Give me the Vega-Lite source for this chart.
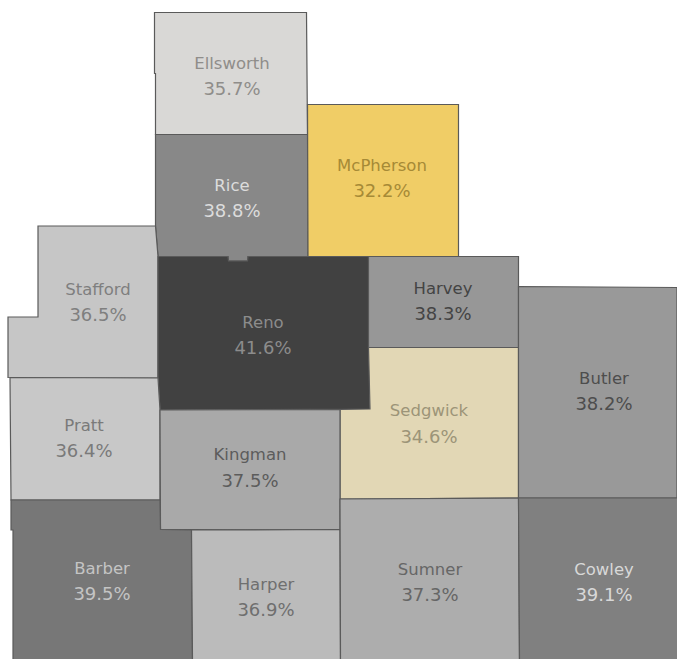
{"$schema":"https://vega.github.io/schema/vega-lite/v6.json","width":677,"height":659,"autosize":{"type":"none"},"padding":0,"background":"#ffffff","view":{"stroke":null},"config":{"view":{"stroke":null}},"projection":{"type":"identity","scale":1,"translate":[0,0]},"data":{"values":[
{"type":"Feature","properties":{"county":"Ellsworth","rate":0.357,"lx":232,"ny":64,"vy":88},"geometry":{"type":"Polygon","coordinates":[[[154.5,12.5],[306.5,12.5],[307.5,134.5],[155.5,134.5],[155.5,73.5],[154.5,73.5],[154.5,12.5]]]}},
{"type":"Feature","properties":{"county":"Rice","rate":0.388,"lx":232,"ny":186,"vy":210},"geometry":{"type":"Polygon","coordinates":[[[155.5,134.5],[307.5,134.5],[308,256.5],[248,256.5],[247.5,261],[228.5,261],[228,256.5],[158,256.5],[155.5,226],[155.5,134.5]]]}},
{"type":"Feature","properties":{"county":"McPherson","rate":0.322,"lx":382,"ny":166,"vy":190},"geometry":{"type":"Polygon","coordinates":[[[307.5,104.5],[458.5,104.5],[458.5,256.5],[308,256.5],[307.5,104.5]]]}},
{"type":"Feature","properties":{"county":"Stafford","rate":0.365,"lx":98,"ny":290,"vy":314},"geometry":{"type":"Polygon","coordinates":[[[38,226],[155.5,226],[158,256.5],[158,378],[8,377.5],[8,317],[38,317],[38,226]]]}},
{"type":"Feature","properties":{"county":"Reno","rate":0.416,"lx":263,"ny":323,"vy":347},"geometry":{"type":"Polygon","coordinates":[[[158,256.5],[228,256.5],[228.5,261],[247.5,261],[248,256.5],[368.5,256.5],[370,409],[160,410],[158,378],[158,256.5]]]}},
{"type":"Feature","properties":{"county":"Harvey","rate":0.383,"lx":443,"ny":289,"vy":313},"geometry":{"type":"Polygon","coordinates":[[[368.5,256.5],[518.5,256.5],[518.5,347.5],[368.5,347.5],[368.5,256.5]]]}},
{"type":"Feature","properties":{"county":"Sedgwick","rate":0.346,"lx":429,"ny":411,"vy":436},"geometry":{"type":"Polygon","coordinates":[[[368.5,347.5],[518.5,347.5],[518.5,498],[340,499],[340,409.5],[370,409],[368.5,347.5]]]}},
{"type":"Feature","properties":{"county":"Butler","rate":0.382,"lx":604,"ny":379,"vy":403},"geometry":{"type":"Polygon","coordinates":[[[518.5,286.5],[677,287.5],[677,498],[518.5,498],[518.5,286.5]]]}},
{"type":"Feature","properties":{"county":"Pratt","rate":0.364,"lx":84,"ny":426,"vy":450},"geometry":{"type":"Polygon","coordinates":[[[10,377.5],[158,378],[160,410],[160,500],[11,500],[10,377.5]]]}},
{"type":"Feature","properties":{"county":"Kingman","rate":0.375,"lx":250,"ny":455,"vy":480},"geometry":{"type":"Polygon","coordinates":[[[160,410],[340,409.5],[340,529.5],[160.5,529.5],[160,410]]]}},
{"type":"Feature","properties":{"county":"Barber","rate":0.395,"lx":102,"ny":569,"vy":593},"geometry":{"type":"Polygon","coordinates":[[[11,500],[160,500],[160.5,529.5],[191.5,530],[192.5,660],[13,660],[13,530],[11,530],[11,500]]]}},
{"type":"Feature","properties":{"county":"Harper","rate":0.369,"lx":266,"ny":585,"vy":609},"geometry":{"type":"Polygon","coordinates":[[[191.5,530],[340,529.5],[340.5,660],[192.5,660],[191.5,530]]]}},
{"type":"Feature","properties":{"county":"Sumner","rate":0.373,"lx":430,"ny":570,"vy":594},"geometry":{"type":"Polygon","coordinates":[[[340,499],[518.5,498],[519.5,660],[340.5,660],[340,499]]]}},
{"type":"Feature","properties":{"county":"Cowley","rate":0.391,"lx":604,"ny":570,"vy":594},"geometry":{"type":"Polygon","coordinates":[[[518.5,498],[678,498],[678,660],[519.5,660],[518.5,498]]]}}
]},
"layer":[
{"mark":{"type":"geoshape","stroke":"#5a5a5a","strokeWidth":1.2},"encoding":{"color":{"field":"properties.county","type":"nominal","legend":null,"scale":{"domain":["Ellsworth","Rice","McPherson","Stafford","Reno","Harvey","Sedgwick","Butler","Pratt","Kingman","Barber","Harper","Sumner","Cowley"],"range":["#d9d8d6","#888888","#f0cd66","#c6c6c6","#414141","#979797","#e2d7b5","#999999","#c8c8c8","#a9a9a9","#777777","#bbbbbb","#adadad","#808080"]}}}},
{"mark":{"type":"text","font":"DejaVu Sans","fontSize":16.5,"align":"center","baseline":"middle"},"encoding":{"longitude":{"field":"properties.lx","type":"quantitative"},"latitude":{"field":"properties.ny","type":"quantitative"},"text":{"field":"properties.county","type":"nominal"},"color":{"field":"properties.county","type":"nominal","legend":null,"scale":{"domain":["Ellsworth","Rice","McPherson","Stafford","Reno","Harvey","Sedgwick","Butler","Pratt","Kingman","Barber","Harper","Sumner","Cowley"],"range":["#8f8d8a","#dcdcdc","#a68a36","#7f7f7f","#8c8c8c","#444444","#9c9478","#4d4d4d","#7a7a7a","#5c5c5c","#c4c4c4","#6f6f6f","#666666","#d8d8d8"]}}}},
{"mark":{"type":"text","font":"DejaVu Sans","fontSize":18,"align":"center","baseline":"middle","dy":1.5},"encoding":{"longitude":{"field":"properties.lx","type":"quantitative"},"latitude":{"field":"properties.vy","type":"quantitative"},"text":{"field":"properties.rate","type":"quantitative","format":".1%"},"color":{"field":"properties.county","type":"nominal","legend":null,"scale":{"domain":["Ellsworth","Rice","McPherson","Stafford","Reno","Harvey","Sedgwick","Butler","Pratt","Kingman","Barber","Harper","Sumner","Cowley"],"range":["#8f8d8a","#dcdcdc","#a68a36","#7f7f7f","#8c8c8c","#444444","#9c9478","#4d4d4d","#7a7a7a","#5c5c5c","#c4c4c4","#6f6f6f","#666666","#d8d8d8"]}}}}
],
"resolve":{"scale":{"color":"independent"}}}
